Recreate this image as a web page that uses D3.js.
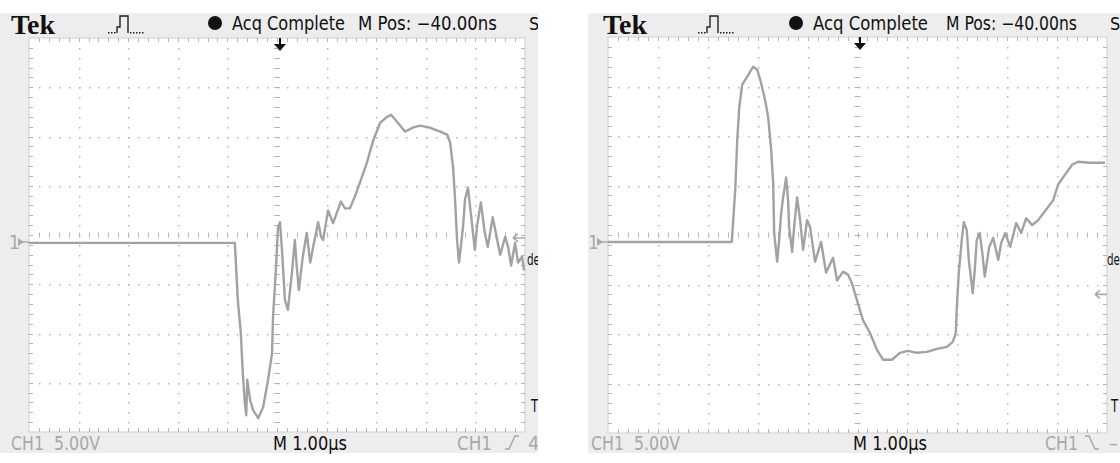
<!DOCTYPE html>
<html><head><meta charset="utf-8">
<script src="https://cdn.jsdelivr.net/npm/d3@7"></script>
<style>html,body{margin:0;padding:0;background:#fff;} svg{display:block}</style>
</head><body>
<svg id="c" width="1120" height="463"></svg>
<script>
// ---- data (time in µs across screen, voltage in V, 5 V/div) ----
const leftTime = [0, 4.15, 4.21, 4.27, 4.31, 4.35, 4.38, 4.40, 4.46, 4.52, 4.62, 4.72, 4.82, 4.90, 4.92, 4.98, 5.02, 5.06, 5.10, 5.16, 5.22, 5.30, 5.36, 5.40, 5.44, 5.52, 5.60, 5.67, 5.73, 5.83, 5.89, 5.93, 6.03, 6.13, 6.29, 6.37, 6.47, 6.57, 6.67, 6.81, 6.94, 7.08, 7.22, 7.30, 7.42, 7.58, 7.74, 7.88, 8.08, 8.29, 8.43, 8.49, 8.55, 8.59, 8.63, 8.67, 8.75, 8.79, 8.85, 8.93, 8.99, 9.03, 9.11, 9.19, 9.25, 9.35, 9.44, 9.50, 9.60, 9.66, 9.72, 9.80, 9.86, 9.94, 9.98];
const leftVolts = [-0.8, -0.8, -6.6, -9.9, -14.0, -17.0, -18.3, -14.7, -16.8, -17.8, -18.6, -17.5, -14.7, -12.0, -8.3, -3.3, 0.8, 1.3, -1.5, -6.6, -7.6, -3.9, -0.5, -3.3, -5.6, -2.2, 0.2, -2.8, -1.2, 1.3, -0.2, -0.5, 2.5, 1.2, 3.4, 2.7, 2.7, 3.9, 5.3, 7.3, 9.6, 11.4, 12.0, 12.2, 11.5, 10.5, 10.9, 11.1, 10.9, 10.5, 10.2, 9.4, 6.9, 3.6, -0.5, -2.8, 0.8, 3.6, 4.8, 1.2, -1.5, 0.8, 3.3, 0.2, -1.2, 1.8, -0.5, -2.0, -0.2, -1.2, -3.1, -0.8, -2.8, -2.2, -3.6];
const rightTime = [0, 2.48, 2.50, 2.55, 2.59, 2.63, 2.69, 2.79, 2.91, 2.99, 3.05, 3.15, 3.21, 3.27, 3.31, 3.33, 3.39, 3.43, 3.47, 3.51, 3.57, 3.61, 3.63, 3.69, 3.73, 3.79, 3.85, 3.91, 3.99, 4.05, 4.15, 4.27, 4.37, 4.51, 4.59, 4.71, 4.81, 4.89, 4.99, 5.11, 5.25, 5.39, 5.51, 5.69, 5.85, 6.01, 6.19, 6.39, 6.59, 6.79, 6.91, 6.97, 6.99, 7.03, 7.09, 7.13, 7.19, 7.23, 7.31, 7.35, 7.39, 7.45, 7.51, 7.55, 7.64, 7.72, 7.82, 7.88, 7.96, 8.06, 8.18, 8.28, 8.38, 8.50, 8.62, 8.80, 8.92, 9.02, 9.16, 9.30, 9.42, 9.66, 9.96];
const rightVolts = [-0.7, -0.7, 0.8, 4.6, 9.6, 12.9, 15.2, 16.0, 17.0, 16.7, 15.7, 13.6, 11.9, 8.6, 5.3, 0.2, -2.7, -0.5, 2.2, 3.8, 5.8, 3.5, 0.8, -1.7, 0.8, 3.8, 1.5, -1.5, 1.5, 0.8, -2.7, -0.7, -3.8, -2.3, -4.6, -3.7, -4.0, -4.9, -6.6, -8.6, -9.9, -11.6, -12.6, -12.6, -11.9, -11.7, -11.9, -11.8, -11.5, -11.3, -10.8, -9.9, -7.3, -3.8, -0.5, 1.3, 0.5, -2.5, -5.9, -3.5, -0.5, 0.2, -2.2, -4.2, -1.2, -0.3, -2.5, -0.8, 0.2, -1.2, 1.2, 0.2, 1.7, 1.0, 1.5, 2.7, 3.5, 5.1, 6.1, 7.1, 7.4, 7.3, 7.3];
const groundLevel = [-0.7, -0.7];          // CH1 ground marker (V)
const triggerLevel = [-0.3, -6.0];         // trigger level arrow (V)
const triggerSlope = ["rise", "fall"];
const timeDomain = [0, 10];                // 10 divisions × 1 µs
const voltDomain = [-20, 20];              // 8 divisions × 5 V
const headerLabels = ["Tek", "Acq Complete", "M Pos: \u221240.00ns", "S"];
const footerLabels = ["CH1  5.00V", "M 1.00\u00b5s", "CH1"];
const footerTail = ["4", "\u2013"];

// ---- layout ----
const panels = [
  {bx: 0, bw: 538, gx0: 29, gx1: 525, gy0: 38, gy1: 432, trigX: 280,
   acq: [232, 113], mpos: [358, 139], s: 529, ch1b: [457, 35], mb: [273, 74], chb: [11, 89],
   slopeX: 505, tailX: 528, deX: 527, tX: 531},
  {bx: 588, bw: 532, gx0: 608, gx1: 1107, gy0: 37, gy1: 433, trigX: 860,
   acq: [813, 115], mpos: [946, 131], s: 1110, ch1b: [1045, 33], mb: [853, 74], chb: [591, 89],
   slopeX: 1085, tailX: 1109, deX: 1107, tX: 1111}
];

const svg = d3.select("#c");
const narrow = "'Liberation Sans Narrow','DejaVu Sans Condensed','Liberation Sans',sans-serif";
const gridCol = "#b5b5b5";

function drawPanel(p, times, volts, idx) {
  const g = svg.append("g");
  const x = d3.scaleLinear().domain(timeDomain).range([p.gx0, p.gx1]);
  const y = d3.scaleLinear().domain(voltDomain).range([p.gy1, p.gy0]);

  g.append("rect").attr("x", p.bx).attr("y", 13).attr("width", p.bw).attr("height", 440).attr("fill", "#ededed");
  g.append("rect").attr("x", p.gx0).attr("y", p.gy0).attr("width", p.gx1 - p.gx0).attr("height", p.gy1 - p.gy0)
    .attr("fill", "#fff").attr("stroke", "#cfcfcf").attr("stroke-width", 1);

  const minorT = d3.range(1, 50).map(i => i * 0.2);
  const minorV = d3.range(1, 40).map(i => -20 + i);
  const majorT = d3.range(1, 10).filter(t => t !== 5);
  const majorV = d3.range(-15, 20, 5).filter(v => v !== 0);

  const ticks = g.append("g").attr("stroke", gridCol).attr("stroke-width", 1);
  minorT.forEach(t => {
    const xx = Math.round(x(t)) + 0.5;
    ticks.append("line").attr("x1", xx).attr("x2", xx).attr("y1", p.gy0).attr("y2", p.gy0 + 4);
    ticks.append("line").attr("x1", xx).attr("x2", xx).attr("y1", p.gy1 - 4).attr("y2", p.gy1);
    ticks.append("line").attr("x1", xx).attr("x2", xx).attr("y1", y(0) - 2.5).attr("y2", y(0) + 2.5);
  });
  minorV.forEach(v => {
    const yy = Math.round(y(v)) + 0.5;
    ticks.append("line").attr("y1", yy).attr("y2", yy).attr("x1", p.gx0).attr("x2", p.gx0 + 4);
    ticks.append("line").attr("y1", yy).attr("y2", yy).attr("x1", p.gx1 - 4).attr("x2", p.gx1);
    ticks.append("line").attr("y1", yy).attr("y2", yy).attr("x1", x(5) - 3).attr("x2", x(5) + 3);
  });
  const dots = g.append("g").attr("fill", gridCol);
  majorT.forEach(t => minorV.forEach(v => {
    dots.append("rect").attr("x", Math.round(x(t))).attr("y", Math.round(y(v))).attr("width", 1.5).attr("height", 1.5);
  }));
  majorV.forEach(v => minorT.forEach(t => {
    dots.append("rect").attr("x", Math.round(x(t))).attr("y", Math.round(y(v))).attr("width", 1.5).attr("height", 1.5);
  }));

  // trace
  const line = d3.line().x(d => x(d[0])).y(d => y(d[1]));
  g.append("path").datum(d3.zip(times, volts)).attr("d", line)
    .attr("fill", "none").attr("stroke", "#a2a2a2").attr("stroke-width", 2.4).attr("stroke-linejoin", "round");

  // ground marker "1▸"
  const gy = y(groundLevel[idx]);
  g.append("text").attr("x", p.gx0 - 20).attr("y", gy + 7).attr("font-family", narrow).attr("font-size", 19)
    .attr("fill", "#a8a8a8").text("1");
  g.append("path").attr("d", `M${p.gx0 - 11},${gy - 4} L${p.gx0 - 5},${gy} L${p.gx0 - 11},${gy + 4} Z`).attr("fill", "#a8a8a8");
  g.append("line").attr("x1", p.gx0 - 7).attr("x2", p.gx0).attr("y1", gy).attr("y2", gy).attr("stroke", "#a8a8a8").attr("stroke-width", 1.5);

  // trigger level arrow
  const ty = y(triggerLevel[idx]);
  g.append("path").attr("d", `M${p.gx1 - 12},${ty} L${p.gx1 - 7},${ty - 4} M${p.gx1 - 12},${ty} L${p.gx1 - 7},${ty + 4} M${p.gx1 - 12},${ty} L${p.gx1},${ty}`)
    .attr("stroke", "#a8a8a8").attr("stroke-width", 1.6).attr("fill", "none");

  // trigger position marker
  g.append("line").attr("x1", p.trigX).attr("x2", p.trigX).attr("y1", p.gy0).attr("y2", p.gy0 + 8).attr("stroke", "#111").attr("stroke-width", 2);
  g.append("path").attr("d", `M${p.trigX - 6},${p.gy0 + 6} L${p.trigX + 6},${p.gy0 + 6} L${p.trigX},${p.gy0 + 13} Z`).attr("fill", "#111");

  // header
  g.append("text").attr("x", p.bx + 11 + (idx ? 4 : 0)).attr("y", 34).attr("font-family", "'Liberation Serif','DejaVu Serif',serif")
    .attr("font-weight", "bold").attr("font-size", 28).attr("textLength", 44).attr("lengthAdjust", "spacingAndGlyphs")
    .attr("fill", "#111").text(headerLabels[0]);
  const px = p.bx + 108 + (idx ? 2 : 0);
  g.append("path").attr("d", `M${px + 9},33 L${px + 9},27 L${px + 12},27 L${px + 12},16 L${px + 20},16 L${px + 20},33`).attr("stroke", "#222").attr("stroke-width", 1.4).attr("fill", "none");
  [0, 3, 6, 22, 25, 28, 31, 34].forEach(o => g.append("rect").attr("x", px + o).attr("y", 32).attr("width", 1.5).attr("height", 1.5).attr("fill", "#222"));
  g.append("circle").attr("cx", p.acq[0] - 17).attr("cy", 23).attr("r", 7).attr("fill", "#111");
  g.append("text").attr("x", p.acq[0]).attr("y", 30).attr("font-family", narrow).attr("font-size", 19)
    .attr("textLength", p.acq[1]).attr("lengthAdjust", "spacingAndGlyphs").attr("fill", "#111").text(headerLabels[1]);
  g.append("text").attr("x", p.mpos[0]).attr("y", 30).attr("font-family", narrow).attr("font-size", 19)
    .attr("textLength", p.mpos[1]).attr("lengthAdjust", "spacingAndGlyphs").attr("fill", "#111").text(headerLabels[2]);
  g.append("text").attr("x", p.s).attr("y", 30).attr("font-family", narrow).attr("font-size", 18).attr("fill", "#111").text(headerLabels[3]);

  // footer
  g.append("text").attr("x", p.chb[0]).attr("y", 450).attr("font-family", narrow).attr("font-size", 20)
    .attr("textLength", p.chb[1]).attr("lengthAdjust", "spacingAndGlyphs").attr("fill", "#a8a8a8").attr("xml:space", "preserve").text(footerLabels[0]);
  g.append("text").attr("x", p.mb[0]).attr("y", 450).attr("font-family", narrow).attr("font-size", 20)
    .attr("textLength", p.mb[1]).attr("lengthAdjust", "spacingAndGlyphs").attr("fill", "#111").text(footerLabels[1]);
  g.append("text").attr("x", p.ch1b[0]).attr("y", 450).attr("font-family", narrow).attr("font-size", 20)
    .attr("textLength", p.ch1b[1]).attr("lengthAdjust", "spacingAndGlyphs").attr("fill", "#a8a8a8").text(footerLabels[2]);
  const sx = p.slopeX;
  const slope = triggerSlope[idx] === "rise"
    ? `M${sx},449 H${sx + 4} L${sx + 10},436 H${sx + 14}`
    : `M${sx},436 H${sx + 4} L${sx + 10},449 H${sx + 14}`;
  g.append("path").attr("d", slope).attr("stroke", "#a8a8a8").attr("stroke-width", 1.5).attr("fill", "none");
  g.append("text").attr("x", p.tailX).attr("y", 450).attr("font-family", narrow).attr("font-size", 20).attr("fill", "#a8a8a8").text(footerTail[idx]);

  // right-edge labels (partially hidden menu text), narrow but tall
  g.append("text").attr("transform", `translate(${p.deX},265) scale(1,1.45)`).attr("font-family", narrow).attr("font-size", 11.5)
    .attr("fill", "#111").text("de");
  g.append("text").attr("transform", `translate(${p.tX},412) scale(1,1.4)`).attr("font-family", narrow).attr("font-size", 13)
    .attr("fill", "#111").text("T");
}

drawPanel(panels[0], leftTime, leftVolts, 0);
drawPanel(panels[1], rightTime, rightVolts, 1);
svg.append("rect").attr("x", 538).attr("y", 0).attr("width", 50).attr("height", 463).attr("fill", "#fff");
</script>
</body></html>
